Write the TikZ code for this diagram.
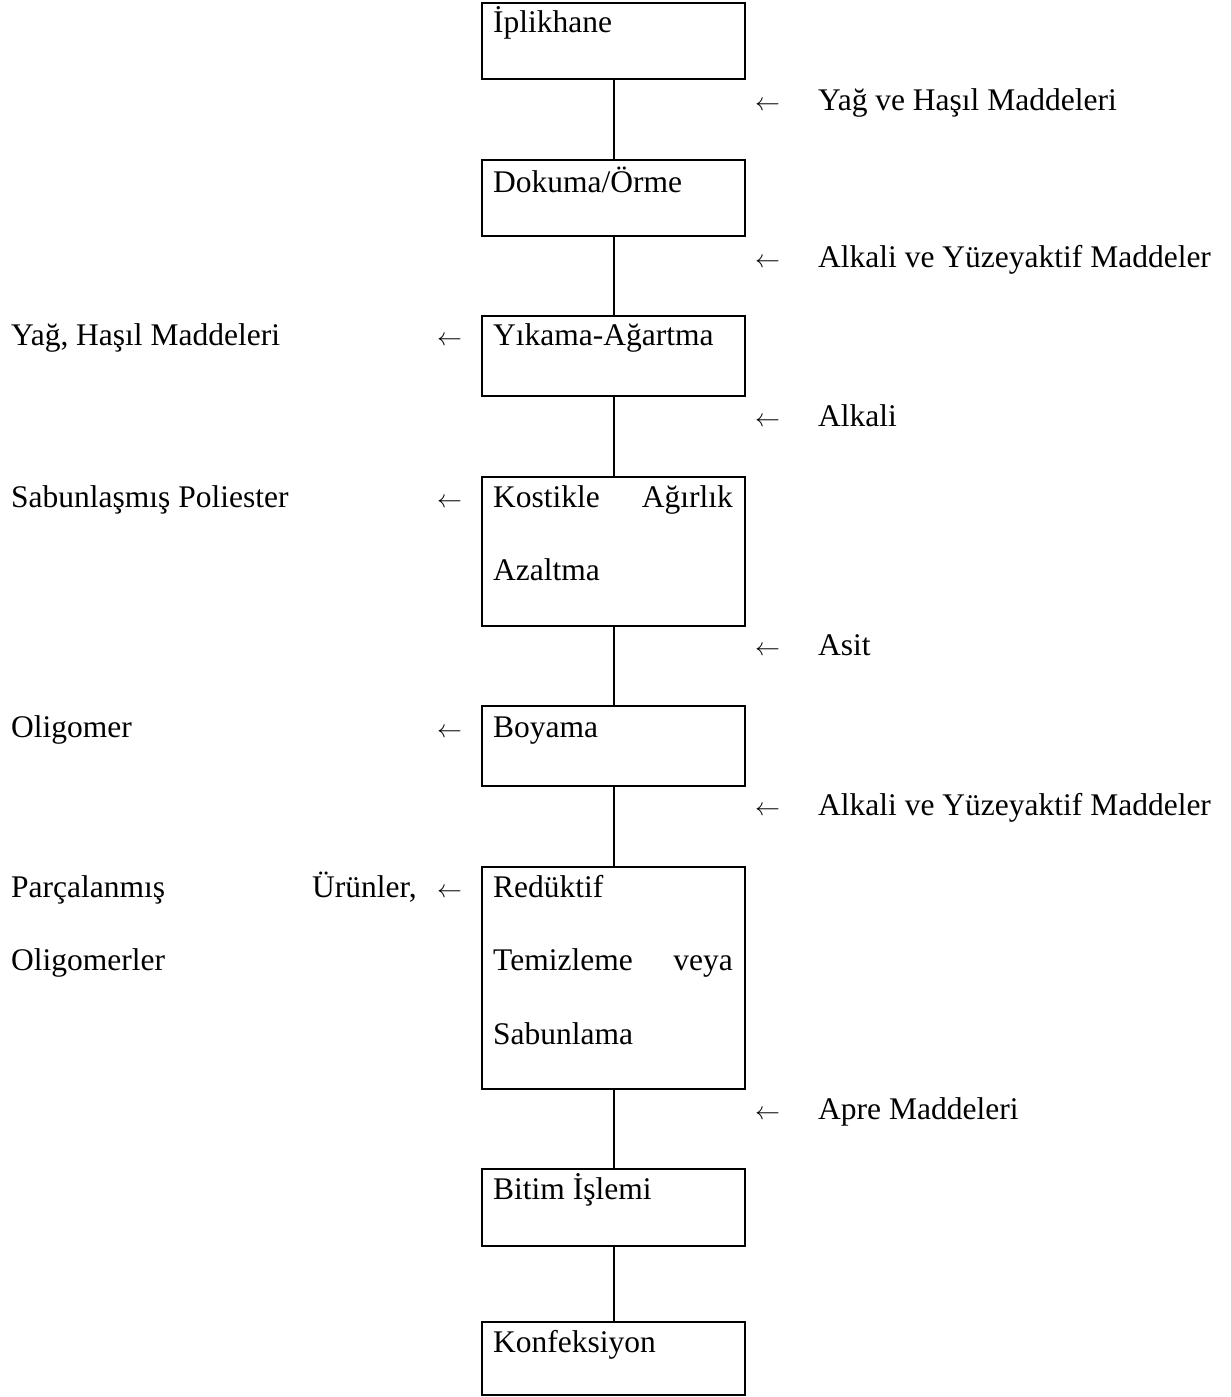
\documentclass[tikz,border=0pt]{standalone}
\usepackage{fontspec}
\setmainfont{Liberation Serif}
\begin{document}
\begin{tikzpicture}[x=1pt,y=-1pt,
  box/.style={draw,line width=2pt,inner sep=0pt,minimum width=263pt},
  conn/.style={line width=2pt},
  txt/.style={inner sep=0pt,anchor=base west,font=\fontsize{31.5}{36}\selectfont},
  txte/.style={inner sep=0pt,anchor=base east,font=\fontsize{31.5}{36}\selectfont},
  arr/.style={inner sep=0pt,anchor=base west,font=\fontsize{28}{33}\selectfont}]
\useasboundingbox (0,0) rectangle (1231,1397);
% boxes
\node[box,minimum height=76pt]  (b1) at (613.5,41) {};
\node[box,minimum height=76pt]  (b2) at (613.5,198) {};
\node[box,minimum height=80pt]  (b3) at (613.5,356) {};
\node[box,minimum height=149pt] (b4) at (613.5,551.5) {};
\node[box,minimum height=80pt]  (b5) at (613.5,746) {};
\node[box,minimum height=222pt] (b6) at (613.5,978) {};
\node[box,minimum height=77pt]  (b7) at (613.5,1207.5) {};
\node[box,minimum height=73pt]  (b8) at (613.5,1358.5) {};
% connectors
\draw[conn] (b1) -- (b2);
\draw[conn] (b2) -- (b3);
\draw[conn] (b3) -- (b4);
\draw[conn] (b4) -- (b5);
\draw[conn] (b5) -- (b6);
\draw[conn] (b6) -- (b7);
\draw[conn] (b7) -- (b8);
% box texts
\node[txt] (t1) at (493,33) {İplikhane};
\node[txt] (t2) at (493,192) {Dokuma/Örme};
\node[txt] (t3) at (493,345) {Yıkama-Ağartma};
\node[txt] (t4a) at (493,507) {Kostikle};
\node[txte] (t4b) at (733,507) {Ağırlık};
\node[txt] (t4c) at (493,580) {Azaltma};
\node[txt] (t5) at (493,737) {Boyama};
\node[txt] (t6a) at (493,897) {Redüktif};
\node[txt] (t6b) at (493,970) {Temizleme};
\node[txte] (t6c) at (733,970) {veya};
\node[txt] (t6d) at (493,1044) {Sabunlama};
\node[txt] (t7) at (493,1199) {Bitim İşlemi};
\node[txt] (t8) at (493,1352) {Konfeksiyon};
% right inputs
\node[arr] (ra1) at (755,110) {$\leftarrow$};
\node[txt] (r1) at (818,110) {Yağ ve Haşıl Maddeleri};
\node[arr] (ra2) at (755,267) {$\leftarrow$};
\node[txt] (r2) at (818,267) {Alkali ve Yüzeyaktif Maddeler};
\node[arr] (ra3) at (755,426) {$\leftarrow$};
\node[txt] (r3) at (818,426) {Alkali};
\node[arr] (ra4) at (755,655) {$\leftarrow$};
\node[txt] (r4) at (818,655) {Asit};
\node[arr] (ra5) at (755,815) {$\leftarrow$};
\node[txt] (r5) at (818,815) {Alkali ve Yüzeyaktif Maddeler};
\node[arr] (ra6) at (755,1119) {$\leftarrow$};
\node[txt] (r6) at (818,1119) {Apre Maddeleri};
% left outputs
\node[txt] (l1) at (11,345) {Yağ, Haşıl Maddeleri};
\node[arr] (la1) at (437,345) {$\leftarrow$};
\node[txt] (l2) at (11,507) {Sabunlaşmış Poliester};
\node[arr] (la2) at (437,507) {$\leftarrow$};
\node[txt] (l3) at (11,737) {Oligomer};
\node[arr] (la3) at (437,737) {$\leftarrow$};
\node[txt] (l4a) at (11,897) {Parçalanmış};
\node[txte] (l4b) at (417,897) {Ürünler,};
\node[arr] (la4) at (437,897) {$\leftarrow$};
\node[txt] (l4c) at (11,970) {Oligomerler};
\end{tikzpicture}
\end{document}
